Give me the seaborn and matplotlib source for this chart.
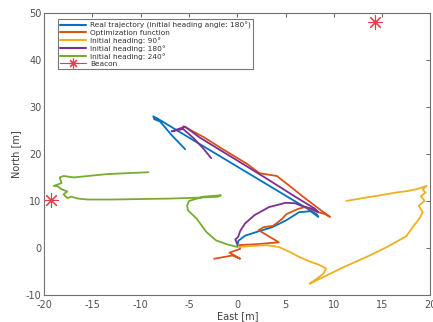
import numpy as np
import pandas as pd
import matplotlib
matplotlib.use("Agg")
import matplotlib.pyplot as plt
import seaborn as sns
from matplotlib.lines import Line2D

# ---- data ----
real_x = [0.0, 0.1, 0.8, 2.0, 3.6, 5.0, 6.4, 7.6, 8.4, 8.2, 6.0, 3.0, 0.0, -3.0, -6.0, -8.0, -8.7, -8.6, -8.0, -6.8, -5.4]
real_y = [0.3, 1.5, 2.6, 3.4, 4.4, 5.8, 7.6, 7.8, 6.6, 7.2, 9.9, 13.6, 17.3, 21.0, 24.7, 27.2, 28.0, 27.4, 26.9, 24.0, 21.0]

opt_x = [-2.4, -0.5, 0.3, -0.8, 0.3, 0.2, 2.0, 4.3, 3.0, 2.2, 2.4, 2.7, 3.7, 4.6, 5.1, 6.3, 7.0, 8.4, 9.1, 9.6, 8.8, 7.0, 5.6, 4.1, 2.3, 1.0, -1.5, -3.5, -5.6]
opt_y = [-2.3, -1.6, -2.3, -1.0, -0.2, 0.6, 0.8, 1.2, 2.8, 3.8, 4.0, 4.4, 4.7, 6.1, 7.2, 8.3, 8.7, 7.6, 7.2, 6.6, 7.8, 10.6, 12.9, 15.3, 15.9, 17.9, 21.0, 23.6, 25.9]

h90_x = [0.2, 1.5, 3.0, 4.3, 5.5, 6.4, 7.4, 8.5, 9.2, 8.9, 8.2, 7.5, 9.0, 11.0, 13.4, 15.5, 17.5, 18.2, 18.9, 19.2, 18.8, 19.4, 19.0, 19.5, 19.2, 19.6, 18.6, 17.6, 16.5, 14.8, 13.0, 11.3]
h90_y = [0.2, 0.4, 0.6, 0.2, -0.9, -1.9, -2.8, -3.6, -4.4, -5.5, -6.6, -7.6, -6.1, -4.1, -1.9, 0.2, 2.5, 4.5, 6.4, 7.6, 9.0, 10.0, 11.0, 11.8, 12.4, 13.2, 12.5, 12.1, 11.8, 11.2, 10.6, 10.0]

h180_x = [0.0, -0.2, 0.1, 0.3, 0.8, 1.8, 3.3, 5.0, 6.0, 6.6, 7.6, 8.4, 8.0, 6.0, 3.0, 0.0, -2.0, -3.9, -5.4, -6.8, -5.6, -4.5, -3.5, -2.7]
h180_y = [0.8, 1.8, 2.4, 3.6, 5.2, 7.0, 8.7, 9.6, 9.5, 9.0, 8.4, 7.6, 8.4, 10.9, 14.8, 18.6, 21.1, 23.5, 25.8, 24.8, 25.3, 23.3, 21.1, 19.1]

h240_x = [0.0, -1.1, -2.2, -3.2, -4.2, -5.1, -5.2, -5.0, -3.5, -1.7, -2.0, -4.0, -7.0, -10.0, -13.0, -15.5, -16.5, -17.2, -17.6, -18.0, -17.6, -18.2, -18.6, -19.0, -18.2, -18.4, -18.0, -16.9, -15.0, -13.5, -11.5, -9.2]
h240_y = [0.2, 0.8, 1.6, 3.4, 6.2, 8.0, 9.0, 10.0, 10.9, 11.2, 10.9, 10.7, 10.5, 10.4, 10.3, 10.3, 10.5, 10.9, 10.6, 11.4, 12.0, 12.5, 13.1, 13.2, 13.8, 15.0, 15.3, 15.0, 15.4, 15.7, 15.9, 16.1]

beacon_x = [-19.3, 14.3]
beacon_y = [10.3, 48.1]

labels = ["Real trajectory (initial heading angle: 180°)", "Optimization function",
          "Initial heading: 90°", "Initial heading: 180°", "Initial heading: 240°"]
colors = ["#0072BD", "#D95319", "#EDB120", "#7E2F8E", "#77AC30"]
beacon_label = "Beacon"

xticks = [-20, -15, -10, -5, 0, 5, 10, 15, 20]
yticks = [-10, 0, 10, 20, 30, 40, 50]

# ---- build table ----
series = [(real_x, real_y), (opt_x, opt_y), (h90_x, h90_y), (h180_x, h180_y), (h240_x, h240_y)]
frames = []
for lab, (xs, ys) in zip(labels, series):
    frames.append(pd.DataFrame({"x": xs, "y": ys, "series": lab}))
df = pd.concat(frames, ignore_index=True)

sns.set_style("white")
plt.rcParams["font.family"] = ["DejaVu Sans"]
plt.rcParams["axes.unicode_minus"] = False

fig = plt.figure(figsize=(4.33, 3.22), dpi=100)
ax = fig.add_axes([0.102, 0.084, 0.892, 0.876])

for lab, col in zip(labels, colors):
    sub = df[df["series"] == lab]
    sns.lineplot(data=sub, x="x", y="y", sort=False, estimator=None, color=col,
                 linewidth=1.3, ax=ax, legend=False)

bdf = pd.DataFrame({"x": beacon_x, "y": beacon_y})
sns.scatterplot(data=bdf, x="x", y="y", marker=(8, 2, 0), s=100, color="#EA3A48",
                linewidth=0.8, ax=ax, legend=False, zorder=5)

ax.set_xlim(-20, 20)
ax.set_ylim(-10, 50)
ax.set_xticks(xticks)
ax.set_yticks(yticks)
ax.set_xlabel("East [m]", fontsize=7, color="#404040", labelpad=1)
ax.set_ylabel("North [m]", fontsize=7, color="#404040", labelpad=3)
ax.tick_params(direction="in", length=3, width=0.6, colors="#505050", labelsize=7,
               top=True, right=True)
ax.tick_params(axis="x", pad=3.5)
ax.tick_params(axis="y", pad=2)
for sp in ax.spines.values():
    sp.set_color("#707070")
    sp.set_linewidth(0.8)

handles = [Line2D([0], [0], color=c, lw=1.5) for c in colors]
handles.append(Line2D([0], [0], color="#EA3A48", lw=0.8, marker=(8, 2, 0), markersize=7,
                      markeredgewidth=0.8))
leg = ax.legend(handles, labels + [beacon_label], loc="upper left", fontsize=5.3,
                frameon=True, fancybox=False, borderpad=0.3, labelspacing=0.15,
                handlelength=3.6, handletextpad=0.5, bbox_to_anchor=(0.025, 0.99))
leg.get_frame().set_edgecolor("#555555")
leg.get_frame().set_linewidth(0.8)
for t in leg.get_texts():
    t.set_color("#303030")

fig.savefig("out.png", dpi=100)
